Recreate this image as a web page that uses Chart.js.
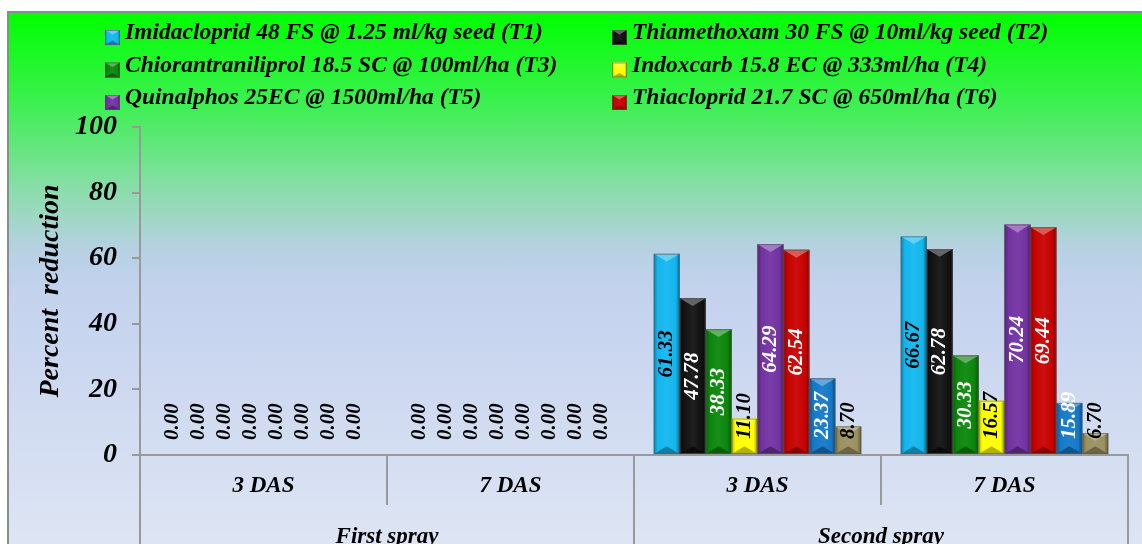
<!DOCTYPE html>
<html>
<head>
<meta charset="utf-8">
<script src="https://cdn.jsdelivr.net/npm/chart.js@4.4.0/dist/chart.umd.min.js"></script>
<style>
html, body { margin: 0; padding: 0; background: #fff; overflow: hidden; width: 1142px; height: 544px; }
#box {
    position: absolute; left: 7px; top: 11px; width: 1160px; height: 560px;
    border-left: 2px solid #8c8c8c; border-top: 2px solid #8c8c8c;
    background: linear-gradient(to bottom, #00ff00 0px, #3cf050 90px, #8ddcae 180px, #b6d1e2 235px, #c4d2ee 280px, #dfe6f4 545px);
}
canvas { display: block; }
</style>
</head>
<body>
<div id="box"><canvas id="chart" width="1160" height="560"></canvas></div>
<script>
// data
var categories = ['3 DAS', '7 DAS', '3 DAS', '7 DAS'];
var sprays = ['First spray', 'Second spray'];
var treatments = [
    'Imidacloprid 48 FS @ 1.25 ml/kg seed (T1)',
    'Thiamethoxam 30 FS @ 10ml/kg seed (T2)',
    'Chiorantraniliprol 18.5 SC @ 100ml/ha (T3)',
    'Indoxcarb 15.8 EC @ 333ml/ha (T4)',
    'Quinalphos 25EC @ 1500ml/ha (T5)',
    'Thiacloprid 21.7 SC @ 650ml/ha (T6)',
    'T7',
    'T8'
];
var t1 = [0, 0, 61.33, 66.67];
var t2 = [0, 0, 47.78, 62.78];
var t3 = [0, 0, 38.33, 30.33];
var t4 = [0, 0, 11.10, 16.57];
var t5 = [0, 0, 64.29, 70.24];
var t6 = [0, 0, 62.54, 69.44];
var t7 = [0, 0, 23.37, 15.89];
var t8 = [0, 0, 8.70, 6.70];
var yTicks = [0, 20, 40, 60, 80, 100];

var barColors = ['#12b6ee', '#111111', '#0a860a', '#ffff00', '#7232a2', '#c80000', '#1478c8', '#9a9060'];
var labelColors = ['#000', '#fff', '#fff', '#000', '#fff', '#fff', '#fff', '#000'];
var legendCount = 6;

var serif = "'Liberation Serif', 'Times New Roman', serif";
function bi(size) { return { family: serif, size: size, style: 'italic', weight: 'bold' }; }

function shade(hex, amt) {
    var n = parseInt(hex.slice(1), 16), r = n >> 16, g = (n >> 8) & 255, b = n & 255;
    function f(c) { return Math.round(amt < 0 ? c * (1 + amt) : c + (255 - c) * amt); }
    return 'rgb(' + f(r) + ',' + f(g) + ',' + f(b) + ')';
}

// bar with a bit of bevel like the office chart
function bevel(ctx, x, y, w, h, hex) {
    if (h <= 0.5) return;
    var g = ctx.createLinearGradient(x, 0, x + w, 0);
    g.addColorStop(0, shade(hex, -0.3));
    g.addColorStop(0.15, hex);
    g.addColorStop(0.5, shade(hex, 0.06));
    g.addColorStop(0.85, hex);
    g.addColorStop(1, shade(hex, -0.4));
    ctx.fillStyle = g;
    ctx.fillRect(x, y, w, h);
    var d = Math.min(h / 2, w * 0.3);
    ctx.beginPath();
    ctx.moveTo(x, y); ctx.lineTo(x + w, y); ctx.lineTo(x + w / 2, y + d); ctx.closePath();
    ctx.fillStyle = shade(hex, 0.35);
    ctx.fill();
    ctx.beginPath();
    ctx.moveTo(x, y + h); ctx.lineTo(x + w, y + h); ctx.lineTo(x + w / 2, y + h - d); ctx.closePath();
    ctx.fillStyle = shade(hex, -0.3);
    ctx.fill();
    ctx.strokeStyle = 'rgba(90,90,90,0.6)';
    ctx.lineWidth = 1;
    ctx.strokeRect(x + 0.5, y + 0.5, w - 1, h - 1);
}

var barPlugin = {
    id: 'barPlugin',
    afterDatasetsDraw: function(chart) {
        var ctx = chart.ctx;
        ctx.save();
        chart.data.datasets.forEach(function(ds, di) {
            var meta = chart.getDatasetMeta(di);
            meta.data.forEach(function(el) {
                bevel(ctx, el.x - el.width / 2, el.y, el.width, el.base - el.y, barColors[di]);
            });
        });
        // value labels, rotated
        ctx.font = 'italic bold 21px ' + serif;
        ctx.textAlign = 'center';
        ctx.textBaseline = 'middle';
        chart.data.datasets.forEach(function(ds, di) {
            var meta = chart.getDatasetMeta(di);
            meta.data.forEach(function(el, i) {
                var v = ds.data[i];
                var txt = v.toFixed(2);
                var tw = ctx.measureText(txt).width;
                var cy = Math.min((el.y + el.base) / 2, el.base - 15 - tw / 2);
                ctx.save();
                ctx.translate(el.x, cy);
                ctx.rotate(-Math.PI / 2);
                ctx.fillStyle = v === 0 ? '#000' : labelColors[di];
                ctx.fillText(txt, 0, 0);
                ctx.restore();
            });
        });
        ctx.restore();
    }
};

var legendPlugin = {
    id: 'legendPlugin',
    afterDraw: function(chart) {
        var ctx = chart.ctx;
        var colX = [96, 603];
        var rowY = [26, 58.5, 91];
        ctx.save();
        ctx.font = 'italic bold 23.5px ' + serif;
        ctx.textBaseline = 'alphabetic';
        ctx.textAlign = 'left';
        for (var i = 0; i < legendCount; i++) {
            var x = colX[i % 2], y = rowY[Math.floor(i / 2)];
            bevel(ctx, x, y - 9, 15, 15, barColors[i]);
            ctx.fillStyle = '#000';
            ctx.fillText(chart.data.datasets[i].label, x + 20, y);
        }
        ctx.restore();
    }
};

var series = [t1, t2, t3, t4, t5, t6, t7, t8];
var datasets = series.map(function(s, i) {
    return {
        label: treatments[i],
        data: s,
        backgroundColor: barColors[i],
        borderWidth: 0,
        categoryPercentage: 0.84,
        barPercentage: 1.0
    };
});

var chart = new Chart(document.getElementById('chart'), {
    type: 'bar',
    data: { labels: categories, datasets: datasets },
    options: {
        responsive: false,
        animation: false,
        layout: { padding: { left: 0, top: 114, right: 41, bottom: 0 } },
        plugins: { legend: { display: false }, tooltip: { enabled: false } },
        scales: {
            x: {
                position: 'bottom',
                offset: true,
                grid: { drawOnChartArea: false, offset: true, tickLength: 50, color: '#999', lineWidth: 2 },
                border: { display: true, color: '#999', width: 2 },
                ticks: { padding: -33, font: bi(23), color: '#000', maxRotation: 0, autoSkip: false },
                afterFit: function(s) { s.height = 50; }
            },
            x2: {
                type: 'category',
                labels: sprays,
                position: 'bottom',
                offset: true,
                grid: { drawOnChartArea: false, offset: true, tickLength: 70, color: '#999', lineWidth: 2 },
                border: { display: false },
                ticks: { padding: -52, font: bi(23), color: '#000', maxRotation: 0, autoSkip: false },
                afterFit: function(s) { s.height = 68; }
            },
            y: {
                min: yTicks[0],
                max: yTicks[yTicks.length - 1],
                ticks: { stepSize: yTicks[1] - yTicks[0], padding: 15, font: bi(28), color: '#000' },
                grid: { drawOnChartArea: false, tickLength: 8, color: '#999', lineWidth: 2 },
                border: { color: '#999', width: 2 },
                title: { display: true, text: 'Percent  reduction', font: bi(28), color: '#000', padding: { top: 25, bottom: 0 } },
                afterFit: function(s) { s.width = 131; }
            }
        }
    },
    plugins: [barPlugin, legendPlugin]
});
</script>
</body>
</html>
